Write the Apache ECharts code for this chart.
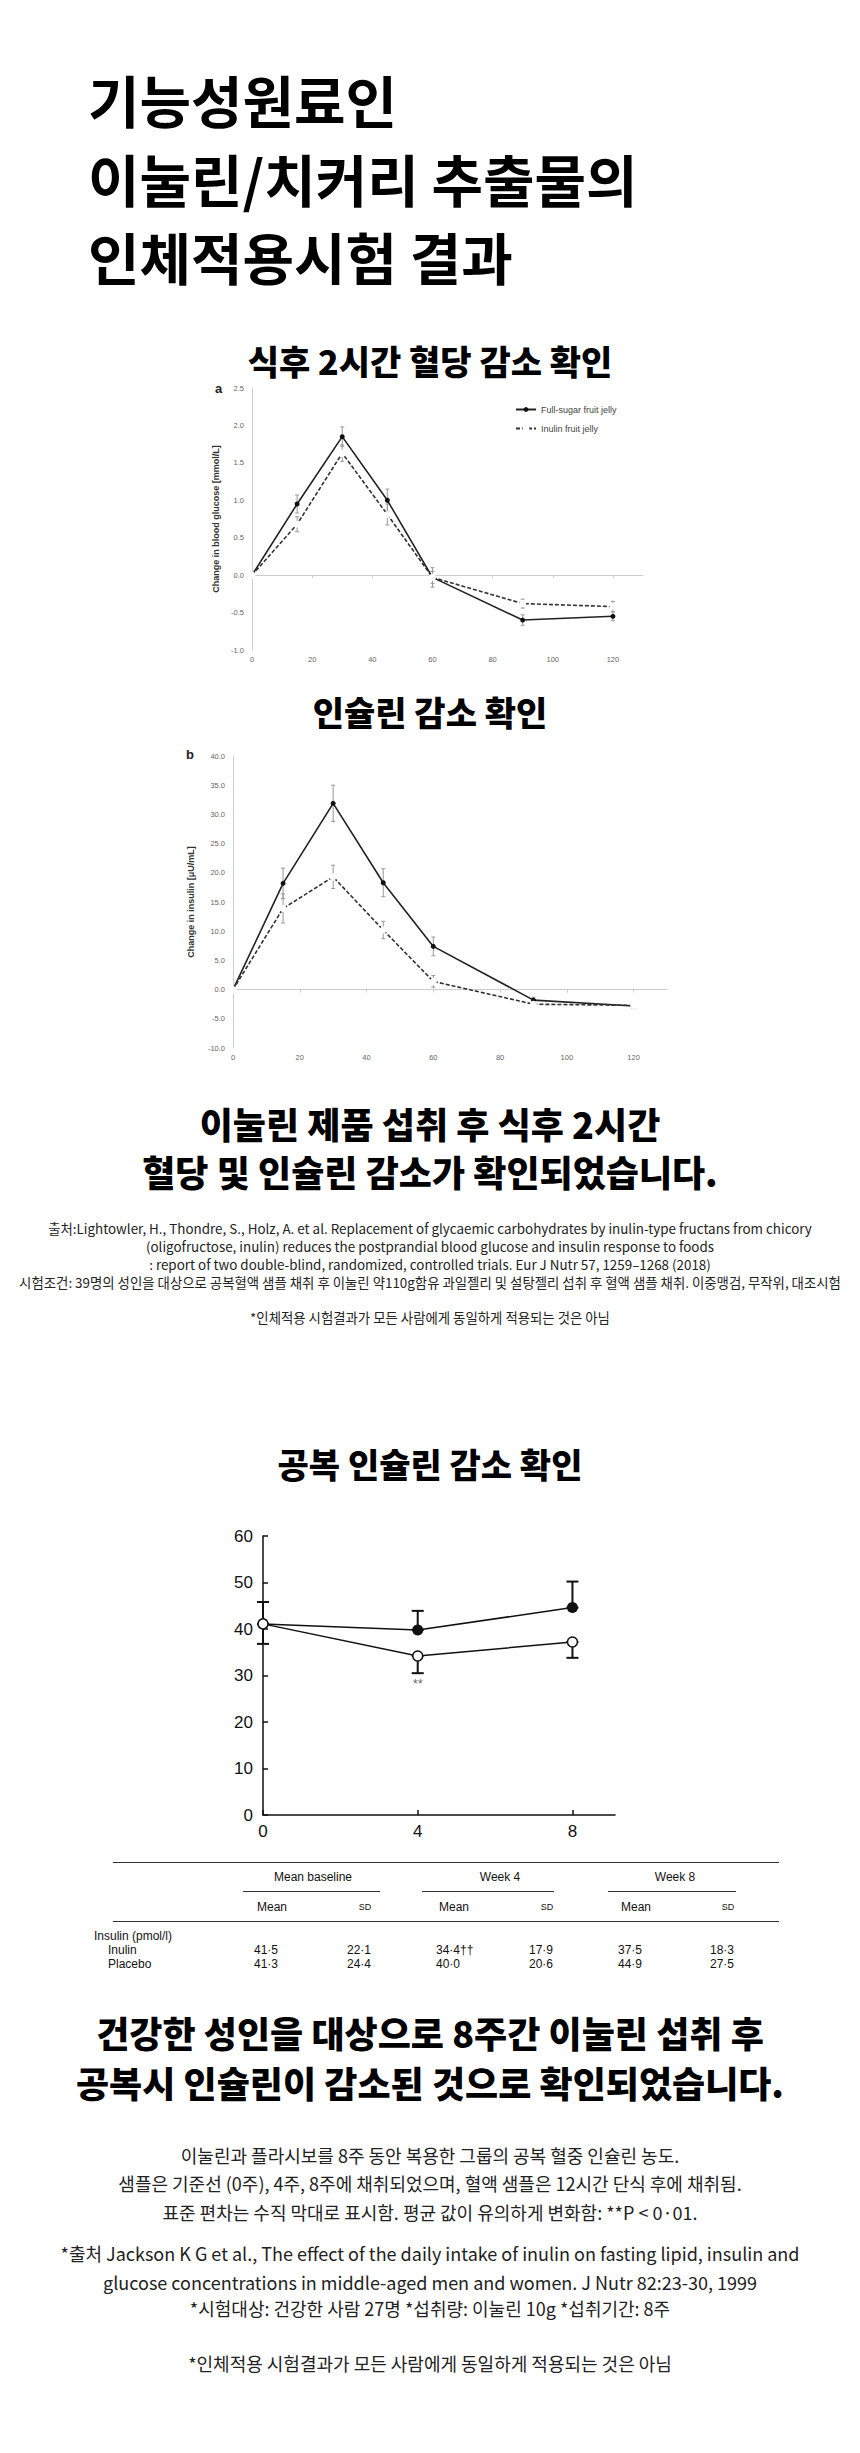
<!DOCTYPE html>
<html>
<head>
<meta charset="utf-8">
<script src="https://cdn.jsdelivr.net/npm/echarts@6/dist/echarts.min.js"></script>
<style>
  html, body { margin: 0; padding: 0; background: #fff; }
  body { width: 860px; height: 2453px; position: relative; font-family: "Noto Sans CJK KR", "Noto Sans", sans-serif; color: #111; }
  .t { position: absolute; white-space: nowrap; }
  .c { transform: translate(-50%, -50%); text-align: center; }
  .l { transform: translate(0, -50%); }
  .big { font-size: 56px; font-weight: 700; left: 88px; color: #000; }
  .h2 { font-size: 34px; font-weight: 900; left: 430px; color: #000; }
  .h3 { font-size: 36px; font-weight: 900; left: 430px; color: #000; }
  .s1 { font-size: 13.4px; left: 430px; color: #222; }
  .s2 { font-size: 18px; left: 430px; color: #222; }
  .tb { font-family: "Liberation Sans", Arial, sans-serif; font-size: 12px; color: #111; }
  .rule { position: absolute; height: 0; border-top: 1.2px solid #333; }
  .chart { position: absolute; }
</style>
</head>
<body>
<div class="t l big" style="top:98px">기능성원료인</div>
<div class="t l big" style="top:177px">이눌린/치커리 추출물의</div>
<div class="t l big" style="top:255px">인체적용시험 결과</div>

<div class="t c h2" style="top:360px">식후 2시간 혈당 감소 확인</div>
<div id="c1" class="chart" style="left:180px;top:370px;width:500px;height:300px"></div>

<div class="t c h2" style="top:711px">인슐린 감소 확인</div>
<div id="c2" class="chart" style="left:180px;top:740px;width:500px;height:330px"></div>

<div class="t c h3" style="top:1123px">이눌린 제품 섭취 후 식후 2시간</div>
<div class="t c h3" style="top:1171px">혈당 및 인슐린 감소가 확인되었습니다.</div>

<div class="t c s1" style="top:1228px">출처:Lightowler, H., Thondre, S., Holz, A. et al. Replacement of glycaemic carbohydrates by inulin-type fructans from chicory</div>
<div class="t c s1" style="top:1246px">(oligofructose, inulin) reduces the postprandial blood glucose and insulin response to foods</div>
<div class="t c s1" style="top:1264px">: report of two double-blind, randomized, controlled trials. Eur J Nutr 57, 1259–1268 (2018)</div>
<div class="t c s1" style="top:1282px">시험조건: 39명의 성인을 대상으로 공복혈액 샘플 채취 후 이눌린 약110g함유 과일젤리 및 설탕젤리 섭취 후 혈액 샘플 채취. 이중맹검, 무작위, 대조시험</div>
<div class="t c s1" style="top:1317px">*인체적용 시험결과가 모든 사람에게 동일하게 적용되는 것은 아님</div>

<div class="t c h2" style="top:1463px">공복 인슐린 감소 확인</div>
<div id="c3" class="chart" style="left:180px;top:1510px;width:500px;height:330px"></div>

<div id="tbl"></div>

<div class="t c h3" style="top:2032px">건강한 성인을 대상으로 8주간 이눌린 섭취 후</div>
<div class="t c h3" style="top:2082px">공복시 인슐린이 감소된 것으로 확인되었습니다.</div>

<div class="t c s2" style="top:2155px">이눌린과 플라시보를 8주 동안 복용한 그룹의 공복 혈중 인슐린 농도.</div>
<div class="t c s2" style="top:2183px">샘플은 기준선 (0주), 4주, 8주에 채취되었으며, 혈액 샘플은 12시간 단식 후에 채취됨.</div>
<div class="t c s2" style="top:2212px">표준 편차는 수직 막대로 표시함. 평균 값이 유의하게 변화함: **P &lt; 0·01.</div>
<div class="t c s2" style="top:2253px">*출처 Jackson K G et al., The effect of the daily intake of inulin on fasting lipid, insulin and</div>
<div class="t c s2" style="top:2282px">glucose concentrations in middle-aged men and women. J Nutr 82:23-30, 1999</div>
<div class="t c s2" style="top:2308px">*시험대상: 건강한 사람 27명 *섭취량: 이눌린 10g *섭취기간: 8주</div>
<div class="t c s2" style="top:2363px">*인체적용 시험결과가 모든 사람에게 동일하게 적용되는 것은 아님</div>

<script>
// --- 식후 혈당 (a) ---
var timeMin = [0, 15, 30, 45, 60, 90, 120];
var glucoseFull = [0, 0.95, 1.85, 1.0, -0.03, -0.6, -0.55];
var glucoseFullErr = [0, 0.12, 0.13, 0.15, 0.13, 0.07, 0.06];
var glucoseInulin = [0, 0.68, 1.63, 0.81, -0.03, -0.38, -0.42];
var glucoseInulinErr = [0, 0.1, 0.11, 0.14, 0.08, 0.06, 0.07];

// --- 식후 인슐린 (b) ---
var insulinFull = [0, 18.2, 31.9, 18.3, 7.4, -1.8, -2.8];
var insulinFullErr = [0, 2.6, 3.1, 2.4, 1.6, 0.5, 0.4];
var insulinInulin = [0, 13.9, 19.3, 10.2, 1.4, -2.5, -2.7];
var insulinInulinErr = [0, 2.5, 2.0, 1.5, 1.0, 0.4, 0.4];

// --- 공복 인슐린 (주) ---
var weeks = [0, 4, 8];
var fastPlacebo = [41.1, 39.8, 44.6];
var fastPlaceboTop = [45.8, 43.9, 50.2];
var fastInulin = [41.1, 34.2, 37.2];
var fastInulinBottom = [36.8, 30.5, 33.8];

// table
var tableGroups = ['Mean baseline', 'Week 4', 'Week 8'];
var tableRowNames = ['Inulin', 'Placebo'];
var tableRows = [
  ['41·5', '22·1', '34·4††', '17·9', '37·5', '18·3'],
  ['41·3', '24·4', '40·0', '20·6', '44·9', '27·5']
];

var FONT = '"Liberation Sans", Arial, sans-serif';

function pairs(xs, ys) { return xs.map(function (x, i) { return [x, ys[i]]; }); }

function errBars(xs, lo, hi, color, cap) {
  return {
    type: 'custom',
    silent: true,
    z: 1,
    renderItem: function (params, api) {
      var x = api.value(0);
      var a = api.coord([x, api.value(1)]);
      var b = api.coord([x, api.value(2)]);
      var st = { stroke: color, lineWidth: cap > 5 ? 2 : 1 };
      return {
        type: 'group',
        children: [
          { type: 'line', shape: { x1: a[0], y1: a[1], x2: b[0], y2: b[1] }, style: st },
          { type: 'line', shape: { x1: a[0] - cap, y1: a[1], x2: a[0] + cap, y2: a[1] }, style: st },
          { type: 'line', shape: { x1: b[0] - cap, y1: b[1], x2: b[0] + cap, y2: b[1] }, style: st }
        ]
      };
    },
    data: xs.map(function (x, i) { return [x, lo[i], hi[i]]; })
  };
}

function minus(v, e) { return v.map(function (x, i) { return x - e[i]; }); }
function plus(v, e) { return v.map(function (x, i) { return x + e[i]; }); }

function smallOption(grid, yMin, yMax, yInt, yName, full, fullErr, inu, inuErr, legend, letter) {
  grid.outerBoundsMode = 'none';
  grid.containLabel = false;
  return {
    animation: false,
    textStyle: { fontFamily: FONT },
    grid: grid,
    legend: legend ? {
      left: 330, top: 30, orient: 'vertical', itemGap: 10, itemWidth: 20, itemHeight: 6,
      textStyle: { fontSize: 9, color: '#444', fontFamily: FONT },
      data: ['Full-sugar fruit jelly', 'Inulin fruit jelly']
    } : undefined,
    graphic: [{ type: 'text', left: letter.x, top: letter.y, style: { text: letter.t, font: 'bold 13px ' + FONT, fill: '#222' } }],
    xAxis: {
      type: 'value', min: 0, max: 130, interval: 20,
      name: 'Time [min]', nameLocation: 'middle', nameGap: letter.nameGap,
      nameTextStyle: { fontWeight: 'bold', fontSize: 10, color: '#333' },
      axisLine: { onZero: true, lineStyle: { color: '#ccc' } },
      axisTick: { show: true, inside: false, length: 3, lineStyle: { color: '#ccc' } },
      axisLabel: { fontSize: 7.5, color: '#666', margin: 5, showMaxLabel: false },
      splitLine: { show: false }
    },
    yAxis: {
      type: 'value', min: yMin, max: yMax, interval: yInt,
      name: yName, nameLocation: 'middle', nameGap: letter.yGap, nameRotate: 90,
      nameTextStyle: { fontWeight: 'bold', fontSize: 9, color: '#333' },
      axisLine: { show: true, lineStyle: { color: '#ccc' } },
      axisTick: { show: false },
      axisLabel: { fontSize: 7.5, color: '#666', formatter: function (v) { return v.toFixed(1); } },
      splitLine: { show: false }
    },
    series: [
      errBars(timeMin, minus(full, fullErr), plus(full, fullErr), '#999', 2),
      errBars(timeMin, minus(inu, inuErr), plus(inu, inuErr), '#999', 2),
      {
        name: 'Full-sugar fruit jelly', type: 'line', data: pairs(timeMin, full),
        symbol: 'circle', symbolSize: 5, z: 3,
        lineStyle: { color: '#222', width: 1.6 }, itemStyle: { color: '#111' }
      },
      {
        name: 'Inulin fruit jelly', type: 'line', data: pairs(timeMin, inu),
        symbol: 'emptyCircle', symbolSize: 5, z: 3,
        lineStyle: { color: '#333', width: 1.6, type: [4, 2] },
        itemStyle: { color: '#fff', borderColor: '#666', borderWidth: 1 }
      }
    ]
  };
}

var c1 = echarts.init(document.getElementById('c1'), null, { renderer: 'svg' });
c1.setOption(smallOption(
  { left: 72, top: 18, width: 391, height: 262 }, -1, 2.5, 0.5,
  'Change in blood glucose [mmol/L]',
  glucoseFull, glucoseFullErr, glucoseInulin, glucoseInulinErr, true,
  { t: 'a', x: 35, y: 12, nameGap: 64, yGap: 32 }
));

var c2 = echarts.init(document.getElementById('c2'), null, { renderer: 'svg' });
c2.setOption(smallOption(
  { left: 53, top: 16, width: 434, height: 292 }, -10, 40, 5,
  'Change in insulin [μU/mL]',
  insulinFull, insulinFullErr, insulinInulin, insulinInulinErr, false,
  { t: 'b', x: 6, y: 8, nameGap: 67, yGap: 38 }
));

var c3 = echarts.init(document.getElementById('c3'), null, { renderer: 'svg' });
c3.setOption({
  animation: false,
  textStyle: { fontFamily: FONT },
  grid: { left: 83, top: 26, width: 352, height: 279, outerBoundsMode: 'none', containLabel: false },
  xAxis: {
    type: 'value', min: 0, max: 9.1, interval: 4,
    axisLine: { lineStyle: { color: '#111', width: 1.5 } },
    axisTick: { inside: true, length: 5, lineStyle: { color: '#111', width: 1.5 } },
    axisLabel: { fontSize: 17, color: '#111', margin: 8, showMaxLabel: false },
    splitLine: { show: false }
  },
  yAxis: {
    type: 'value', min: 0, max: 60, interval: 10,
    axisLine: { show: true, lineStyle: { color: '#111', width: 1.5 } },
    axisTick: { show: true, inside: true, length: 5, lineStyle: { color: '#111', width: 1.5 } },
    axisLabel: { fontSize: 17, color: '#111', margin: 10 },
    splitLine: { show: false }
  },
  series: [
    errBars(weeks, fastPlacebo, fastPlaceboTop, '#111', 6),
    errBars(weeks, fastInulinBottom, fastInulin, '#111', 6),
    {
      type: 'line', data: pairs(weeks, fastPlacebo), symbol: 'circle', symbolSize: 11, z: 3,
      lineStyle: { color: '#111', width: 1.5 }, itemStyle: { color: '#111' }
    },
    {
      type: 'line', data: pairs(weeks, fastInulin), symbol: 'circle', symbolSize: 10, z: 3,
      lineStyle: { color: '#111', width: 1.5 },
      itemStyle: { color: '#fff', borderColor: '#111', borderWidth: 1.5 }
    },
    {
      type: 'scatter', data: [[4, 30.5]], symbolSize: 0, silent: true,
      label: { show: true, position: 'bottom', distance: 4, formatter: '**', fontSize: 13, color: '#444' }
    }
  ]
});

// table below chart 3
(function () {
  var el = document.getElementById('tbl');
  var html = '';
  function txt(x, y, s, cls, align) {
    html += '<div class="t tb ' + (align === 'l' ? 'l' : 'c') + '" style="left:' + x + 'px;top:' + y + 'px">' + s + '</div>';
  }
  function rule(x1, x2, y) {
    html += '<div class="rule" style="left:' + x1 + 'px;top:' + y + 'px;width:' + (x2 - x1) + 'px"></div>';
  }
  var gx = [313, 500, 675];
  var ul = [[243, 380], [422, 554], [608, 736]];
  var colX = [272, 365, 454, 547, 636, 728];
  rule(113, 779, 1862);
  tableGroups.forEach(function (g, i) { txt(gx[i], 1877, g); rule(ul[i][0], ul[i][1], 1891); });
  colX.forEach(function (x, i) {
    if (i % 2 === 0) txt(x, 1907, 'Mean');
    else html += '<div class="t tb c" style="left:' + x + 'px;top:1907px;font-size:9px">SD</div>';
  });
  rule(113, 779, 1921);
  txt(94, 1936, 'Insulin (pmol/l)', '', 'l');
  tableRowNames.forEach(function (n, r) {
    var y = 1950 + r * 14;
    txt(108, y, n, '', 'l');
    tableRows[r].forEach(function (v, i) { txt(colX[i] - 18, y, v, '', 'l'); });
  });
  el.innerHTML = html;
})();
</script>
</body>
</html>
